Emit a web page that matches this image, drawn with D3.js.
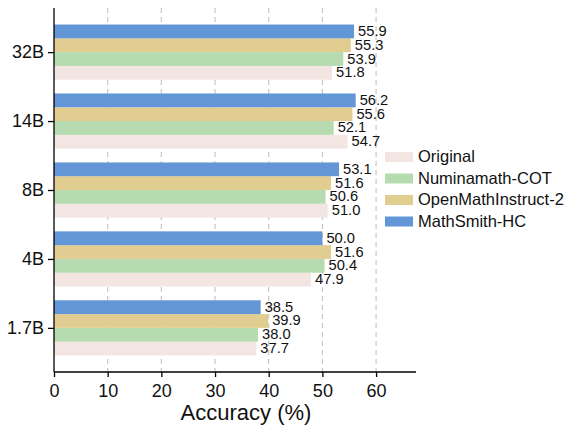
<!DOCTYPE html>
<html><head><meta charset="utf-8">
<script src="https://cdn.jsdelivr.net/npm/d3@7"></script>
<style>body{margin:0;background:#fff;} svg{display:block;font-family:"Liberation Sans",Arial,sans-serif;}</style>
</head><body><svg id="c" width="568" height="428"></svg>
<script>
const categories = ["1.7B","4B","8B","14B","32B"];
const seriesNames = ["Original","Numinamath-COT","OpenMathInstruct-2","MathSmith-HC"];
const original = [37.7,47.9,51.0,54.7,51.8];
const numinamath = [38.0,50.4,50.6,52.1,53.9];
const openmath = [39.9,51.6,51.6,55.6,55.3];
const mathsmith = [38.5,50.0,53.1,56.2,55.9];
const xTicks = [0,10,20,30,40,50,60];
const colors = ["#f3e6e2","#b6dbb0","#e2cd91","#6396d6"];
const series = [original, numinamath, openmath, mathsmith];

const svg = d3.select("#c");
const L=54, R=416, T=8, B=372;
const x = d3.scaleLinear().domain([0,67.44]).range([L,R]);
const y = d3.scaleLinear().domain([-0.64,4.64]).range([B,T]);
const bw = 0.2;

// grid
svg.append("g").selectAll("line").data(xTicks.filter(d=>d>0)).join("line")
  .attr("x1",d=>x(d)).attr("x2",d=>x(d)).attr("y1",T).attr("y2",B)
  .attr("stroke","#c8c8c8").attr("stroke-width",1.2).attr("stroke-dasharray","5,4");

// bars
series.forEach((vals,si)=>{
  const off = (si-1.5)*bw;
  const g = svg.append("g");
  g.selectAll("rect").data(vals).join("rect")
    .attr("x",x(0))
    .attr("y",(d,i)=>y(i+off+bw/2))
    .attr("width",d=>x(d)-x(0))
    .attr("height",(d,i)=>y(i+off-bw/2)-y(i+off+bw/2))
    .attr("fill",colors[si]);
  g.selectAll("text").data(vals).join("text")
    .attr("x",d=>x(d)+4)
    .attr("y",(d,i)=>y(i+off)+4.5)
    .attr("font-size",14.7).attr("fill","#111")
    .text(d=>d.toFixed(1));
});

// axes
const xa = svg.append("g").attr("transform",`translate(0,${B})`)
  .call(d3.axisBottom(x).tickValues(xTicks).tickSize(5).tickPadding(7).tickFormat(d3.format("d")));
xa.select(".domain").attr("stroke","#000").attr("stroke-width",1.3).attr("d",`M${L},0H${R}`);
xa.selectAll(".tick line").attr("stroke","#000").attr("stroke-width",1.3);
xa.selectAll("text").attr("font-size",18).attr("fill","#111").attr("font-family","Liberation Sans, Arial, sans-serif");

const ya = svg.append("g").attr("transform",`translate(${L},0)`)
  .call(d3.axisLeft(y).tickValues([0,1,2,3,4]).tickSize(6).tickPadding(4).tickFormat(i=>categories[i]));
ya.select(".domain").attr("stroke","#000").attr("stroke-width",1.3).attr("d",`M0,${T}V${B}`);
ya.selectAll(".tick line").attr("stroke","#000").attr("stroke-width",1.3);
ya.selectAll("text").attr("font-size",18).attr("fill","#111").attr("font-family","Liberation Sans, Arial, sans-serif");

svg.append("text").attr("x",246).attr("y",420).attr("text-anchor","middle")
  .attr("font-size",22).attr("fill","#111").text("Accuracy (%)");

// legend
const lg = svg.append("g");
seriesNames.forEach((n,i)=>{
  const by = 162 + i*21.5;
  lg.append("rect").attr("x",385).attr("y",by-10).attr("width",28).attr("height",10).attr("fill",colors[i]);
  lg.append("text").attr("x",418).attr("y",by)
    .attr("font-size",16.5).attr("fill","#111").text(n);
});
</script></body></html>
